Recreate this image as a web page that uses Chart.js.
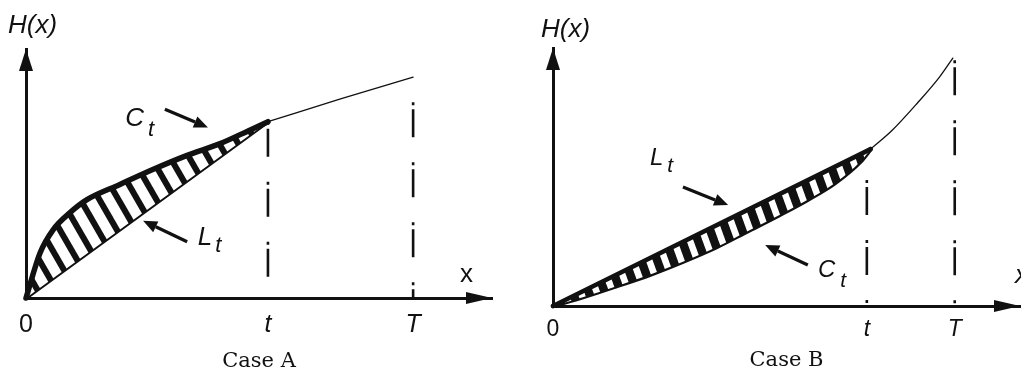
<!DOCTYPE html>
<html><head><meta charset="utf-8">
<script src="https://cdn.jsdelivr.net/npm/chart.js@4.4.1/dist/chart.umd.min.js"></script>
<style>
html,body{margin:0;padding:0;background:#fff;}
#wrap{position:relative;width:1021px;height:374px;overflow:hidden;background:#fff;}
.pane{position:absolute;top:0;height:374px;}
#pa{left:0;width:510px;} #pb{left:510px;width:511px;}
canvas{display:block;}
</style></head><body>
<div id="wrap">
  <div class="pane" id="pa"><canvas id="ca" width="510" height="374"></canvas></div>
  <div class="pane" id="pb"><canvas id="cb" width="511" height="374"></canvas></div>
</div>
<script>
// ---------------- data ----------------
const tickLabels = ['0', 't', 'T'];

// Case A
const caseA_ticks = [0, 5, 8];               // 0, t, T
const caseA_ctX = [0, 0.29, 0.56, 0.91, 1.26, 1.94, 2.62, 3.33, 4.01, 4.6, 5];
const caseA_ctY = [0, 1.81, 2.74, 3.43, 3.95, 4.56, 5.16, 5.73, 6.2, 6.72, 7.08];
const caseA_ltX = [0, 5];
const caseA_ltY = [0, 7.08];
const caseA_tailX = [5, 6.5, 8];
const caseA_tailY = [7.08, 8.0, 8.87];
const caseA_guideX = [5, 8];
const caseA_guideTop = [7.08, 7.86];

// Case B
const caseB_ticks = [0, 5, 6.4];
const caseB_ltX = [0, 5.06];
const caseB_ltY = [0, 6.08];
const caseB_ctX = [0, 0.5, 1.0, 1.55, 2.05, 2.6, 3.1, 3.6, 4.05, 4.5, 4.9, 5.06];
const caseB_ctY = [0, 0.36, 0.76, 1.22, 1.7, 2.28, 2.9, 3.52, 4.11, 4.78, 5.6, 6.08];
const caseB_tailX = [5.06, 5.4, 5.8, 6.16, 6.37];
const caseB_tailY = [6.08, 6.8, 7.85, 8.88, 9.61];
const caseB_guideX = [5, 6.4];
const caseB_guideTop = [4.88, 9.53];

// ---------------- helpers ----------------
const INK = '#111';
const pts = (xs, ys) => xs.map((x, i) => ({x, y: ys[i]}));

function stripes(canvasId, W, H, black) {
  const c = document.createElement('canvas'); c.width = W; c.height = H;
  const g = c.getContext('2d');
  g.fillStyle = '#fff'; g.fillRect(0, 0, W, H);
  g.fillStyle = INK;
  for (const off of [-W, 0, W]) {
    g.beginPath(); g.moveTo(off, 0); g.lineTo(off + black, 0);
    g.lineTo(off + black + W, H); g.lineTo(off + W, H); g.closePath(); g.fill();
  }
  return document.getElementById(canvasId).getContext('2d').createPattern(c, 'repeat');
}

const diagramPlugin = {
  id: 'diagram',
  afterDraw(chart, args, o) {
    const {ctx, chartArea: a, scales: {x, y}} = chart;
    ctx.save();
    ctx.fillStyle = INK; ctx.strokeStyle = INK;
    // axis arrowheads
    ctx.beginPath(); ctx.moveTo(a.left, a.top); ctx.lineTo(a.left - o.yHeadW / 2, a.top + o.yHeadL);
    ctx.lineTo(a.left + o.yHeadW / 2, a.top + o.yHeadL); ctx.closePath(); ctx.fill();
    ctx.beginPath(); ctx.moveTo(a.right, a.bottom); ctx.lineTo(a.right - o.xHeadL, a.bottom - o.xHeadW / 2);
    ctx.lineTo(a.right - o.xHeadL, a.bottom + o.xHeadW / 2); ctx.closePath(); ctx.fill();
    // pointer arrows
    for (const p of o.pointers) {
      const x0 = x.getPixelForValue(p.from[0]), y0 = y.getPixelForValue(p.from[1]);
      const x1 = x.getPixelForValue(p.to[0]), y1 = y.getPixelForValue(p.to[1]);
      const ang = Math.atan2(y1 - y0, x1 - x0), hl = 14, hw = 12;
      const bx = x1 - hl * Math.cos(ang), by = y1 - hl * Math.sin(ang);
      ctx.lineWidth = 3.2;
      ctx.beginPath(); ctx.moveTo(x0, y0); ctx.lineTo(bx, by); ctx.stroke();
      ctx.beginPath(); ctx.moveTo(x1, y1);
      ctx.lineTo(bx + hw / 2 * Math.sin(ang), by - hw / 2 * Math.cos(ang));
      ctx.lineTo(bx - hw / 2 * Math.sin(ang), by + hw / 2 * Math.cos(ang));
      ctx.closePath(); ctx.fill();
    }
    // text labels
    ctx.textAlign = 'left'; ctx.textBaseline = 'alphabetic';
    for (const l of o.labels) {
      const px = x.getPixelForValue(l.at[0]), py = y.getPixelForValue(l.at[1]);
      ctx.font = l.font; ctx.fillText(l.text, px, py);
      if (l.sub) {
        const w = ctx.measureText(l.text).width;
        ctx.font = l.subFont; ctx.fillText(l.sub, px + w + l.subDx, py + l.subDy);
      }
    }
    ctx.restore();
  }
};

function buildChart(id, cfg) {
  const band = stripes(id, cfg.pattern[0], cfg.pattern[1], cfg.pattern[2]);
  const guideDash = [3, 4, 28, 25];
  const datasets = [
    {label: cfg.upper.name, data: cfg.upper.data, borderWidth: cfg.upper.w, fill: '+1',
     backgroundColor: band, cubicInterpolationMode: cfg.upper.curve ? 'monotone' : 'default'},
    {label: cfg.lower.name, data: cfg.lower.data, borderWidth: cfg.lower.w, fill: false,
     cubicInterpolationMode: cfg.lower.curve ? 'monotone' : 'default'},
    {label: 'H tail', data: cfg.tail, borderWidth: 1.3, fill: false, cubicInterpolationMode: 'monotone'},
    {label: 't', data: [{x: cfg.guideX[0], y: cfg.guideTop[0]}, {x: cfg.guideX[0], y: 0}],
     borderWidth: 2.6, borderDash: guideDash, borderCapStyle: 'butt', fill: false},
    {label: 'T', data: [{x: cfg.guideX[1], y: cfg.guideTop[1]}, {x: cfg.guideX[1], y: 0}],
     borderWidth: 2.6, borderDash: guideDash, borderCapStyle: 'butt', fill: false}
  ].map(d => Object.assign({showLine: true, pointRadius: 0, borderColor: INK, borderCapStyle: 'round',
                            borderJoinStyle: 'round', clip: false}, d));
  return new Chart(document.getElementById(id), {
    type: 'scatter',
    data: {datasets},
    plugins: [diagramPlugin],
    options: {
      responsive: false, animation: false, devicePixelRatio: 1,
      layout: {padding: {left: cfg.padL, right: cfg.padR, top: 0, bottom: 0}},
      plugins: {
        legend: {display: false}, tooltip: {enabled: false},
        title: {display: true, text: 'H(x)', align: 'start', color: INK,
                font: {family: 'Liberation Sans', size: 26, style: 'italic', weight: 'normal', lineHeight: 1.2},
                padding: {top: cfg.titleTop, bottom: cfg.titleBottom}},
        diagram: {yHeadW: 14, yHeadL: 22, xHeadW: 12, xHeadL: 26, pointers: cfg.pointers, labels: cfg.labels}
      },
      scales: {
        x: {type: 'linear', min: 0, max: cfg.xMax,
            grid: {display: false, drawTicks: false},
            border: {display: true, width: 3, color: INK},
            afterBuildTicks: s => { s.ticks = cfg.ticks.map(v => ({value: v})); },
            afterFit: s => { s.height = cfg.xHeight; },
            ticks: {autoSkip: false, maxRotation: 0, minRotation: 0, padding: cfg.tickPad, color: INK,
                    callback: (v, i) => tickLabels[i],
                    font: c => ({family: 'Liberation Sans', size: cfg.tickSize, style: c.index === 0 ? 'normal' : 'italic', lineHeight: 1.2})},
            title: {display: true, text: cfg.caption, color: INK,
                    font: {family: 'DejaVu Serif', size: 21, lineHeight: 1.2}, padding: {top: 0, bottom: cfg.capPad}}},
        y: {type: 'linear', min: 0, max: 10,
            grid: {display: false, drawTicks: false},
            border: {display: true, width: 3, color: INK},
            ticks: {display: false},
            afterFit: s => { s.width = cfg.yWidth; }}
      }
    }
  });
}

const fontMain = 'italic 26px "Liberation Sans"';
const fontSub = 'italic 22px "Liberation Sans"';

buildChart('ca', {
  pattern: [19, 33, 7],
  upper: {name: 'C_t', data: pts(caseA_ctX, caseA_ctY), w: 5.5, curve: true},
  lower: {name: 'L_t', data: pts(caseA_ltX, caseA_ltY), w: 4, curve: false},
  tail: pts(caseA_tailX, caseA_tailY),
  guideX: caseA_guideX, guideTop: caseA_guideTop,
  ticks: caseA_ticks, xMax: 9.63, xHeight: 76, tickPad: 12, tickSize: 25,
  caption: 'Case A', capPad: 0,
  padL: 8, padR: 18, yWidth: 18, titleTop: 10, titleBottom: 7.8,
  pointers: [{from: [2.87, 7.58], to: [3.76, 6.85]}, {from: [3.33, 2.26], to: [2.42, 3.10]}],
  labels: [
    {text: 'C', sub: 't', at: [2.05, 6.90], font: fontMain, subFont: fontSub, subDx: 4, subDy: 10},
    {text: 'L', sub: 't', at: [3.55, 2.14], font: fontMain, subFont: fontSub, subDx: 3, subDy: 7},
    {text: 'x', at: [8.97, 0.65], font: '26px "Liberation Sans"'}
  ]
});

buildChart('cb', {
  pattern: [16, 44, 9],
  upper: {name: 'L_t', data: pts(caseB_ltX, caseB_ltY), w: 4.5, curve: false},
  lower: {name: 'C_t', data: pts(caseB_ctX, caseB_ctY), w: 4.5, curve: true},
  tail: pts(caseB_tailX, caseB_tailY),
  guideX: caseB_guideX, guideTop: caseB_guideTop,
  ticks: caseB_ticks, xMax: 7.44, xHeight: 68, tickPad: 10, tickSize: 23,
  caption: 'Case B', capPad: 1,
  padL: 31, padR: 1, yWidth: 12, titleTop: 14, titleBottom: 2.8,
  pointers: [{from: [2.07, 4.61], to: [2.79, 3.91]}, {from: [4.06, 1.59], to: [3.38, 2.36]}],
  labels: [
    {text: 'L', sub: 't', at: [1.545, 5.47], font: 'italic 24px "Liberation Sans"', subFont: 'italic 21px "Liberation Sans"', subDx: 4, subDy: 7},
    {text: 'C', sub: 't', at: [4.22, 1.12], font: 'italic 24px "Liberation Sans"', subFont: 'italic 21px "Liberation Sans"', subDx: 5, subDy: 10},
    {text: 'x', at: [7.36, 0.89], font: 'italic 26px "Liberation Sans"'}
  ]
});
</script>
</body></html>
